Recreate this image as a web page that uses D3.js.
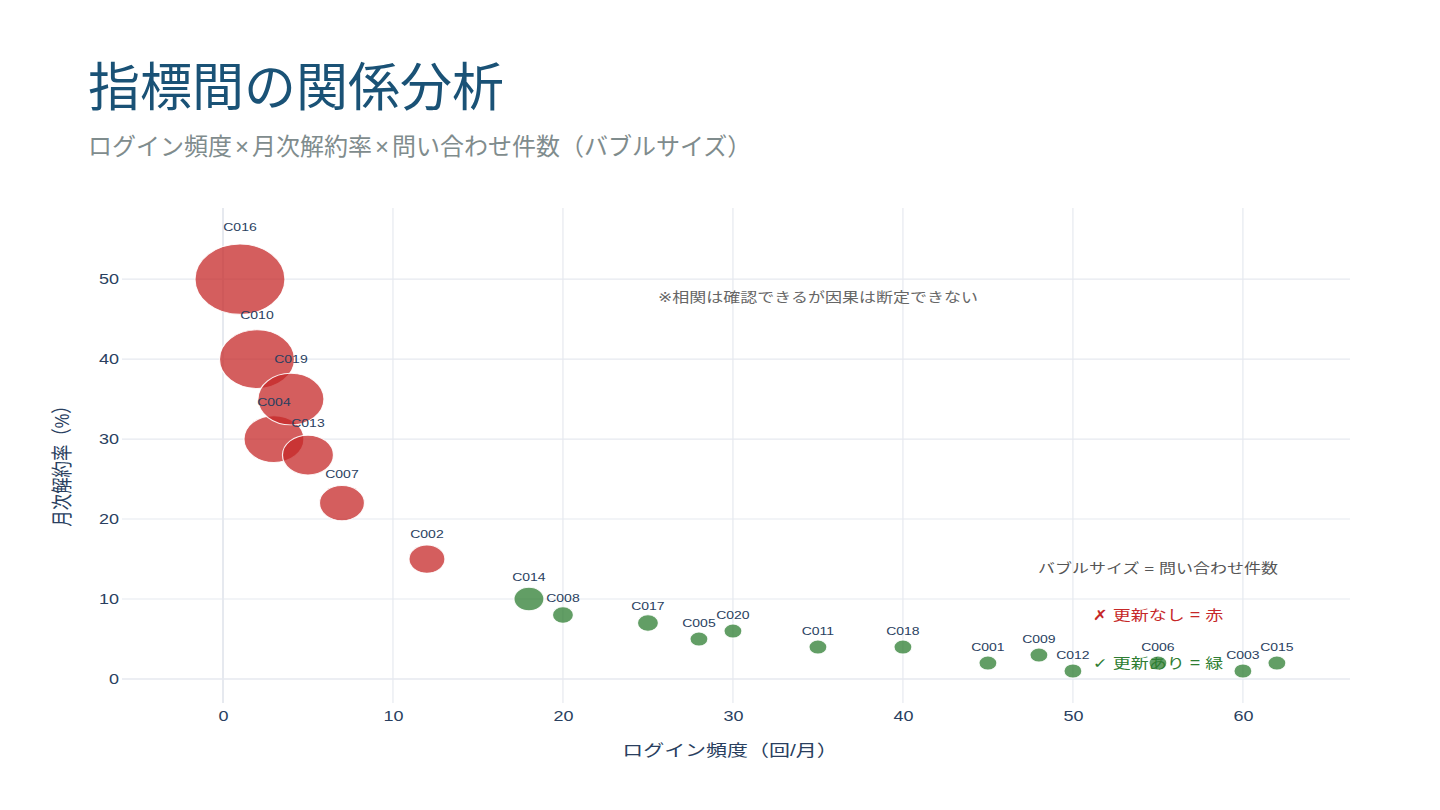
<!DOCTYPE html>
<html>
<head>
<meta charset="utf-8">
<script src="https://cdn.jsdelivr.net/npm/d3@7"></script>
<style>
  html, body { margin: 0; padding: 0; background: #ffffff; }
  svg { display: block; }
</style>
</head>
<body>
<svg id="chart" width="1440" height="810"></svg>
<script>
// ---- data ----
const customerIds = ["C001","C002","C003","C004","C005","C006","C007","C008","C009","C010",
                     "C011","C012","C013","C014","C015","C016","C017","C018","C019","C020"];
const loginFreq   = [45, 12, 60, 3, 28, 55, 7, 20, 48, 2, 35, 50, 5, 18, 62, 1, 25, 40, 4, 30];
const churnRate   = [2, 15, 1, 30, 5, 2, 22, 8, 3, 40, 4, 1, 28, 10, 2, 50, 7, 4, 35, 6];
const inquiries   = [6, 12, 6, 20, 6, 6, 15, 7, 6, 25, 6, 6, 17, 10, 6, 30, 7, 6, 22, 6];
const renewed     = [true, false, true, false, true, true, false, true, true, false,
                     true, true, false, true, true, false, true, true, false, true];
const xTickValues = [0, 10, 20, 30, 40, 50, 60];
const yTickValues = [0, 10, 20, 30, 40, 50];

const titleText     = "指標間の関係分析";
const subtitleParts = ["ログイン頻度", "×", "月次解約率", "×", "問い合わせ件数（バブルサイズ）"];
const xAxisTitle    = "ログイン頻度（回/月）";
const yAxisTitle    = "月次解約率（%）";
const noteText      = "※相関は確認できるが因果は断定できない";
const sizeNote      = "バブルサイズ = 問い合わせ件数";
const redNote       = "✗ 更新なし = 赤";
const greenNote     = "✓ 更新あり = 緑";

const data = customerIds.map((id, i) => ({
  id, x: loginFreq[i], y: churnRate[i], n: inquiries[i], ok: renewed[i]
}));

// ---- drawing ----
const K = 1.28; // chart area is vertically compressed
const svg = d3.select("#chart");
svg.append("rect").attr("width", 1440).attr("height", 810).attr("fill", "#ffffff");

const cjk = "'Noto Sans CJK JP', 'Noto Sans', sans-serif";
const latin = "'Liberation Sans', Arial, 'Noto Sans CJK JP', sans-serif";

svg.append("text").attr("x", 88).attr("y", 106)
  .attr("font-family", cjk).attr("font-size", 52).attr("fill", "#1a5276")
  .text(titleText);
const sub = svg.append("text").attr("x", 88).attr("y", 155)
  .attr("font-family", cjk).attr("font-size", 24).attr("fill", "#7f8c8d");
sub.selectAll("tspan").data(subtitleParts).join("tspan")
  .attr("font-family", d => d === "×" ? latin : cjk)
  .attr("dx", (d, i) => i === 0 ? 0 : 3)
  .text(d => d);

const g = svg.append("g").attr("transform", `scale(1, ${1 / K})`);

const L = 122, R = 1350, T = 208 * K, B = 703 * K;
const x = d3.scaleLinear().domain([-5.94, 66.3]).range([L, R]);
const y = d3.scaleLinear().domain([-3, 58.9]).range([B, T]);
const r = d3.scaleLinear().domain([0, 30]).range([0, 45]);

const gridColor = "#e6e9ef";
// grid
g.append("g").selectAll("line").data(xTickValues).join("line")
  .attr("x1", d => x(d)).attr("x2", d => x(d)).attr("y1", T).attr("y2", B)
  .attr("stroke", gridColor).attr("stroke-width", d => d === 0 ? 2 : 1.2);
g.append("g").selectAll("line").data(yTickValues).join("line")
  .attr("x1", L).attr("x2", R).attr("y1", d => y(d)).attr("y2", d => y(d))
  .attr("stroke", gridColor).attr("stroke-width", d => d === 0 ? 2.2 : 1.4);

// axes (labels only)
const xAxis = g.append("g").attr("transform", `translate(0,${B})`)
  .call(d3.axisBottom(x).tickValues(xTickValues).tickSize(0).tickPadding(10));
const yAxis = g.append("g").attr("transform", `translate(${L},0)`)
  .call(d3.axisLeft(y).tickValues(yTickValues).tickSize(0).tickPadding(3));
[xAxis, yAxis].forEach(a => {
  a.select(".domain").remove();
  a.selectAll("text").attr("font-family", latin).attr("font-size", 18).attr("fill", "#2a3f5f");
});

// axis titles
g.append("text").attr("x", 730).attr("y", 756 * K).attr("text-anchor", "middle")
  .attr("font-family", latin).attr("font-size", 21).attr("fill", "#2a3f5f")
  .text(xAxisTitle);
g.append("text").attr("transform", `translate(62,${462 * K}) rotate(-90)`)
  .attr("text-anchor", "middle").attr("dominant-baseline", "central")
  .attr("font-family", latin).attr("font-size", 21).attr("fill", "#2a3f5f")
  .text(yAxisTitle);

// bubbles
g.append("g").selectAll("circle").data(data).join("circle")
  .attr("cx", d => x(d.x)).attr("cy", d => y(d.y)).attr("r", d => r(d.n))
  .attr("fill", d => d.ok ? "#2e7d32" : "#c62828")
  .attr("fill-opacity", 0.75)
  .attr("stroke", "#ffffff").attr("stroke-opacity", 0.9).attr("stroke-width", 1.2);

// labels
g.append("g").selectAll("text").data(data).join("text")
  .attr("x", d => x(d.x)).attr("y", d => y(d.y) - (r(d.n) + 3) * K)
  .attr("text-anchor", "middle")
  .attr("font-family", latin).attr("font-size", 14).attr("fill", "#2a3f5f")
  .text(d => d.id);

// annotations
const ann = [
  { t: noteText,  cx: 818,  cy: 297, c: "#666666", s: 17 },
  { t: sizeNote,  cx: 1158, cy: 568, c: "#555555", s: 17 },
  { t: redNote,   cx: 1158, cy: 615, c: "#c62828", s: 18 },
  { t: greenNote, cx: 1158, cy: 663, c: "#2e7d32", s: 18 }
];
g.append("g").selectAll("text").data(ann).join("text")
  .attr("x", d => d.cx).attr("y", d => d.cy * K)
  .attr("text-anchor", "middle").attr("dominant-baseline", "central")
  .attr("font-family", "'Liberation Sans', 'DejaVu Sans', 'Noto Sans CJK JP', sans-serif")
  .attr("font-size", d => d.s).attr("fill", d => d.c)
  .text(d => d.t);
</script>
</body>
</html>
